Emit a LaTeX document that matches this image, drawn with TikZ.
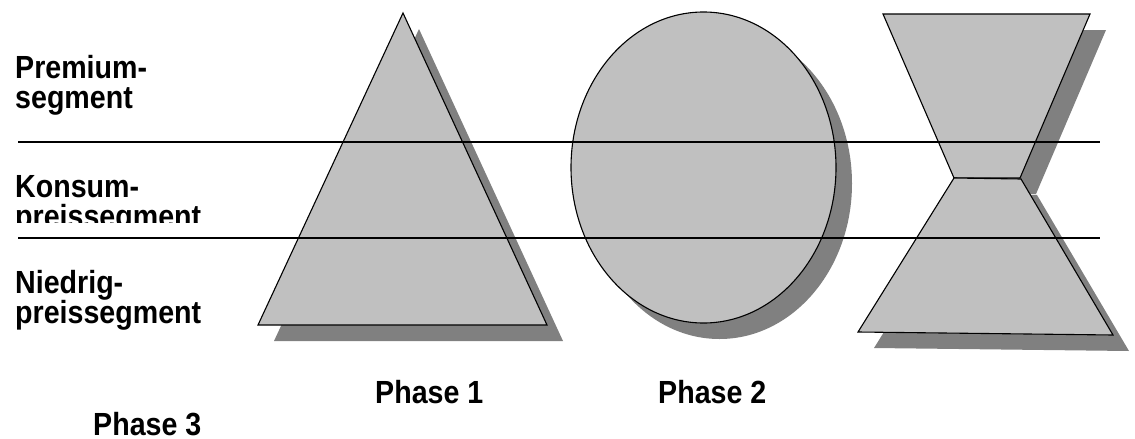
\documentclass[tikz,border=0pt]{standalone}
\usepackage{fontspec}
\setmainfont{Liberation Sans}
\definecolor{bodygray}{HTML}{C0C0C0}
\definecolor{shadowgray}{HTML}{808080}
\newcommand{\stretchtxt}[1]{\scalebox{1}[1.12]{#1}}
\begin{document}
\begin{tikzpicture}[x=1pt,y=-1pt,
  lbl/.style={inner sep=0pt, anchor=base west, font=\fontsize{28.6}{33}\selectfont\bfseries},
  shadowfill/.style={fill=shadowgray, draw=none},
  bodyfill/.style={fill=bodygray, draw=black, line width=1.1pt, line join=miter},
  band/.style={draw=black, line width=1.3pt}]
\useasboundingbox (0,0) rectangle (1135,439);
% shadows
\fill[shadowgray] (419,29) -- (274,341) -- (563,341) -- cycle;
\fill[shadowgray] (719.5,183.5) ellipse [x radius=132.5, y radius=155.5];
\fill[shadowgray] (899,30) -- (1106,30) -- (1036,194) -- (970,194) -- cycle;
\fill[shadowgray] (970,194) -- (1037,195) -- (1129,351) -- (874,348) -- cycle;
% shapes
\draw[bodyfill] (403,13) -- (258,325) -- (547,325) -- cycle;
\draw[bodyfill] (703.5,167.5) ellipse [x radius=132.5, y radius=155.5];
\draw[bodyfill] (883,14) -- (1090,14) -- (1020,178) -- (954,178) -- cycle;
\draw[bodyfill] (954,178) -- (1021,179) -- (1113,335) -- (858,332) -- cycle;
% band lines
\coordinate (l1a) at (18,142);
\coordinate (l1b) at (1100,142);
\coordinate (l2a) at (18,238);
\coordinate (l2b) at (1100,238);
\draw[band] (l1a) -- (l1b);
\draw[band] (l2a) -- (l2b);
% labels
\node[lbl] (prem1) at (15,78) {\stretchtxt{Premium-}};
\node[lbl] (prem2) at (15,108) {\stretchtxt{segment}};
\node[lbl] (kons1) at (15,197) {\stretchtxt{Konsum-}};
\begin{scope}
\clip (0,0) rectangle (400,222);
\node[lbl] (kons2) at (15,227) {\stretchtxt{preissegment}};
\end{scope}
\node[lbl] (nied1) at (15,293) {\stretchtxt{Niedrig-}};
\node[lbl] (nied2) at (15,323) {\stretchtxt{preissegment}};
\node[lbl] (ph1) at (375,403) {\stretchtxt{Phase 1}};
\node[lbl] (ph2) at (658,403) {\stretchtxt{Phase 2}};
\node[lbl] (ph3) at (93,435) {\stretchtxt{Phase 3}};
\end{tikzpicture}
\end{document}
